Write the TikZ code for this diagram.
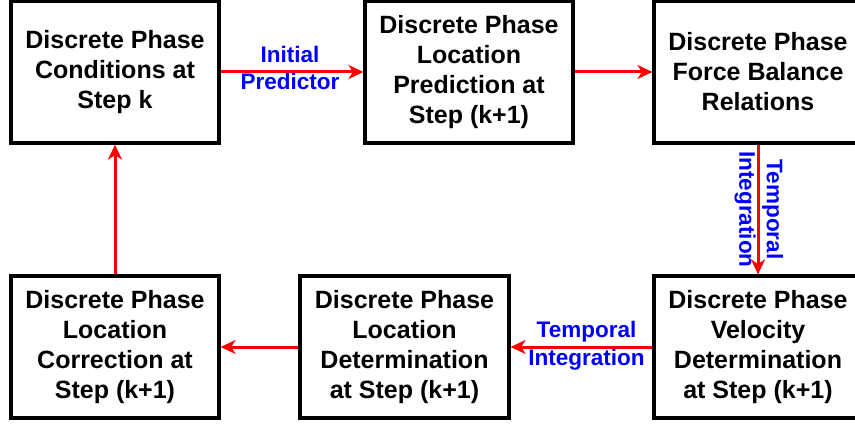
\documentclass[tikz,border=0pt]{standalone}
\usepackage{fontspec}
\setmainfont{Liberation Sans}
\usetikzlibrary{arrows.meta}
\begin{document}
\begin{tikzpicture}[x=1pt,y=1pt,
  box/.style={draw=black, line width=3.2pt, minimum width=208pt, minimum height=142pt,
    inner sep=0pt, align=center, font=\fontsize{25}{30}\selectfont\bfseries},
  arr/.style={draw=red, line width=3pt, -{Stealth[length=15pt,width=14pt,inset=4.5pt]}},
  lbl/.style={text=blue, align=center, inner sep=0pt, font=\fontsize{22.5}{27.5}\selectfont\bfseries}]
\useasboundingbox (0,0) rectangle (855,424);
\clip (0,0) rectangle (855,424);
\node[box] (b1) at (115,352) {Discrete Phase\\Conditions at\\Step k};
\node[box] (b2) at (469,352) {Discrete Phase\\Location\\Prediction at\\Step (k+1)};
\node[box] (b3) at (758,352) {Discrete Phase\\Force Balance\\Relations};
\node[box] (b4) at (115,77) {Discrete Phase\\Location\\Correction at\\Step (k+1)};
\node[box, minimum width=209pt] (b5) at (404.5,77) {Discrete Phase\\Location\\Determination\\at Step (k+1)};
\node[box] (b6) at (758,77) {Discrete Phase\\Velocity\\Determination\\at Step (k+1)};
\draw[arr] (b1.east) -- (b2.west) node[midway, lbl, xshift=-2pt, yshift=4pt] (l1) {Initial\\Predictor};
\draw[arr] (b2.east) -- (b3.west);
\draw[arr] (b3.south) -- (b6.north) node[midway, lbl, rotate=-90, yshift=1pt] (l2) {Temporal\\Integration};
\draw[arr] (b6.west) -- (b5.east) node[midway, lbl, xshift=5pt, yshift=1.5pt] (l3) {Temporal\\Integration};
\draw[arr] (b5.west) -- (b4.east);
\draw[arr] (b4.north) -- (b1.south);
\end{tikzpicture}
\end{document}
